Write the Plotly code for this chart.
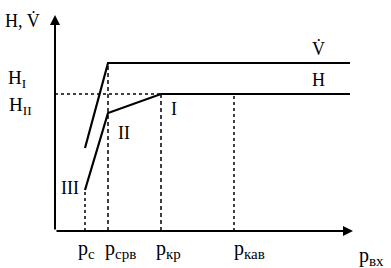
import plotly.graph_objects as go

# Schematic values (arbitrary units)
p_c, p_srv, p_kr, p_kav = 30, 53, 106, 179
p_end = 295
x_axis_end, y_axis_top = 298, 216

H_III, H_II_pt, H_I = 41, 118, 137
V_start, V_max = 83, 168

H_x = [p_c, p_srv, p_kr, p_end]
H_y = [H_III, H_II_pt, H_I, H_I]
V_x = [p_c, p_srv, p_end]
V_y = [V_start, V_max, V_max]

tick_subs = ["c", "срв", "кр", "кав"]
tick_pos = [p_c, p_srv, p_kr, p_kav]
tick_shift = [-9, -5, -7, -2]

FONT = "Liberation Serif"
fig = go.Figure()
black = "black"

# vertical guide lines
fig.add_trace(go.Scatter(x=[p_c, p_c], y=[0, H_III], mode="lines",
                         line=dict(color=black, width=1.5, dash="dot")))
fig.add_trace(go.Scatter(x=[p_srv, p_srv], y=[0, V_max], mode="lines",
                         line=dict(color=black, width=1.5, dash="4px,3px")))
fig.add_trace(go.Scatter(x=[p_kr, p_kr], y=[0, H_I], mode="lines",
                         line=dict(color=black, width=1.5, dash="4px,3px")))
fig.add_trace(go.Scatter(x=[p_kav, p_kav], y=[0, H_I], mode="lines",
                         line=dict(color=black, width=1.5, dash="dot")))
# horizontal dotted H_II level
fig.add_trace(go.Scatter(x=[0, p_kr], y=[H_I, H_I], mode="lines",
                         line=dict(color=black, width=1.5, dash="dot")))
# curves
fig.add_trace(go.Scatter(x=H_x, y=H_y, mode="lines", line=dict(color=black, width=2.2)))
fig.add_trace(go.Scatter(x=V_x, y=V_y, mode="lines", line=dict(color=black, width=2.2)))

ann = []
# axes with arrows
ann.append(dict(x=0, y=y_axis_top, ax=0, ay=0, xref="x", yref="y", axref="x", ayref="y",
                showarrow=True, arrowhead=2, arrowsize=1, arrowwidth=2, arrowcolor=black, text=""))
ann.append(dict(x=x_axis_end, y=0, ax=0, ay=0, xref="x", yref="y", axref="x", ayref="y",
                showarrow=True, arrowhead=2, arrowsize=1, arrowwidth=2, arrowcolor=black, text=""))

def txt(x, y, t, size=16, xanchor="center"):
    ann.append(dict(x=x, y=y, xref="x", yref="y", text=t, showarrow=False, xanchor=xanchor,
                    font=dict(family=FONT, size=size, color=black)))

def plab(sub):
    return "p<sub><span style='font-size:15px'>%s</span></sub>" % sub

for pos, sub, sh in zip(tick_pos, tick_subs, tick_shift):
    txt(pos + sh, -18, plab(sub), 20, "left")
txt(302, -25, plab("вх"), 20, "left")
txt(-33, 211, "H, V\u0307", 18)
txt(-38, 152, "H<sub>I</sub>", 19)
txt(-35, 125, "H<sub>II</sub>", 19)
txt(119, 122, "I", 18)
txt(69, 98, "II", 18)
txt(15, 43, "III", 18)
txt(263, 183, "V\u0307", 18)
txt(263, 151, "H", 18)

fig.update_layout(
    width=391, height=268,
    margin=dict(l=0, r=0, t=0, b=0),
    paper_bgcolor="white", plot_bgcolor="white",
    showlegend=False,
    xaxis=dict(range=[-55, 336], visible=False, fixedrange=True),
    yaxis=dict(range=[-37, 231], visible=False, fixedrange=True),
    annotations=ann,
)
fig.write_html("out.html", config={"displayModeBar": False},
               post_script="document.body.style.margin='0';document.body.style.overflow='hidden';")
